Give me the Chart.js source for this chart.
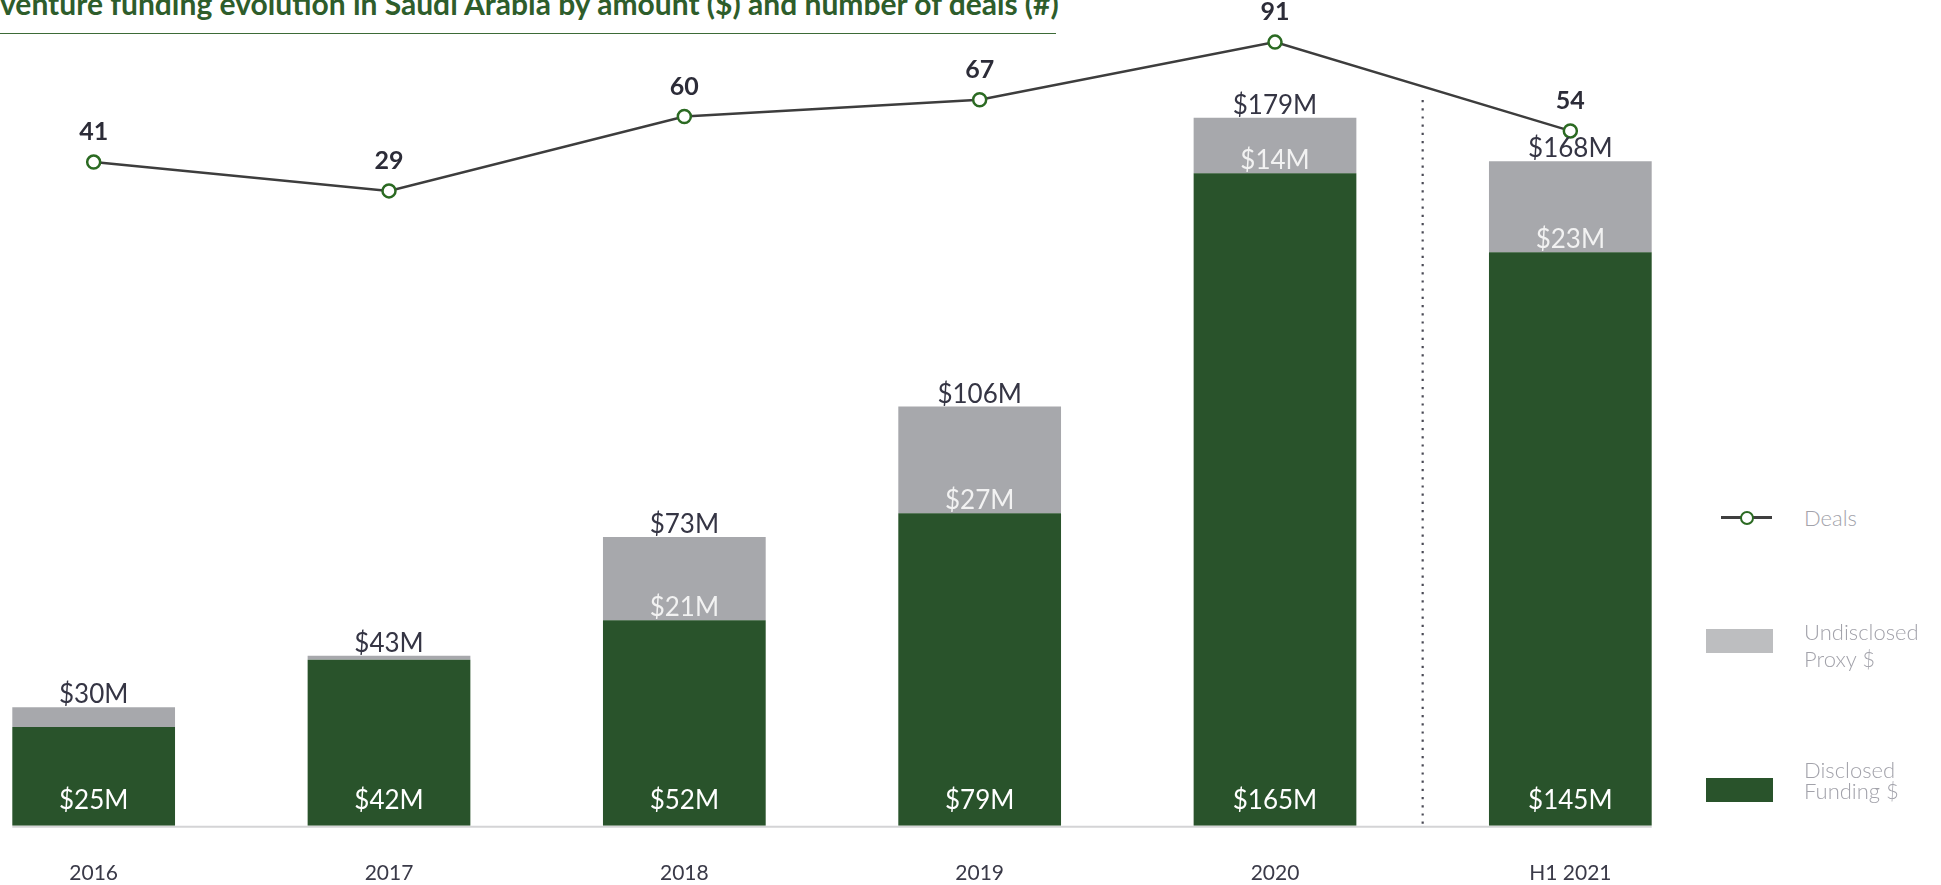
<!DOCTYPE html>
<html>
<head>
<meta charset="utf-8">
<script src="https://cdn.jsdelivr.net/npm/chart.js@4.4.1/dist/chart.umd.min.js"></script>
<style>
  html, body { margin: 0; padding: 0; background: #ffffff; overflow: hidden; width: 1941px; height: 885px; }
  body { position: relative; font-family: Lato, "Open Sans", sans-serif; }
  #chart { position: absolute; left: -54px; top: 0; }
  #title { position: absolute; left: 0; top: -12.5px; font: 700 30px/30px Lato, sans-serif; color: #2e5d2b; white-space: nowrap; }
  #rule { position: absolute; left: 0; top: 33px; width: 1056px; height: 0; border-top: 1.5px solid #3d6b37; }
  .lg { position: absolute; }
  .lgtext { position: absolute; left: 1804px; font: 300 22px Lato, sans-serif; color: #a2a2aa; white-space: nowrap; }
</style>
</head>
<body>
<div id="title">venture funding evolution in Saudi Arabia by amount ($) and number of deals (#)</div>
<div id="rule"></div>
<canvas id="chart" width="1772" height="921"></canvas>

<div class="lg" style="left:1721px; top:516px; width:51px; height:3px; background:#3f3f3f;"></div>
<div class="lg" style="left:1740px; top:511px; width:10px; height:10px; border:2.5px solid #2b6a22; border-radius:50%; background:#fff;"></div>
<div class="lgtext" style="top:504px; line-height:28px;">Deals</div>

<div class="lg" style="left:1706px; top:629px; width:67px; height:24px; background:#bdbec0;"></div>
<div class="lgtext" style="top:618px; line-height:27px;">Undisclosed<br>Proxy $</div>

<div class="lg" style="left:1706px; top:778px; width:67px; height:24px; background:#29532b;"></div>
<div class="lgtext" style="top:759px; line-height:21px;">Disclosed<br>Funding $</div>

<script>
// ---- data ----
const categories = ['2016', '2017', '2018', '2019', '2020', 'H1 2021'];
const disclosedFunding = [25, 42, 52, 79, 165, 145];   // $M
const undisclosedProxy = [5, 1, 21, 27, 14, 23];       // $M
const deals = [41, 29, 60, 67, 91, 54];                // number of deals

const GREEN = '#29532b';
const GRAY = '#a7a8ac';

const decorPlugin = {
  id: 'decor',
  beforeDatasetsDraw(chart) {
    const ctx = chart.ctx;
    const xs = chart.scales.x, ys = chart.scales.y;
    const base = ys.getPixelForValue(0);
    const metaD = chart.getDatasetMeta(1);
    const first = metaD.data[0], last = metaD.data[metaD.data.length - 1];
    ctx.save();
    // baseline
    ctx.strokeStyle = '#d4d4d6';
    ctx.lineWidth = 2;
    ctx.beginPath();
    ctx.moveTo(first.x - first.width / 2, base + 1);
    ctx.lineTo(last.x + last.width / 2, base + 1);
    ctx.stroke();
    // dotted divider between 2020 and H1 2021
    const xm = (xs.getPixelForValue(4) + xs.getPixelForValue(5)) / 2;
    ctx.strokeStyle = '#4a4a55';
    ctx.lineWidth = 2.2;
    ctx.setLineDash([2.2, 6]);
    ctx.beginPath();
    ctx.moveTo(xm, 100);
    ctx.lineTo(xm, base + 2);
    ctx.stroke();
    ctx.restore();
  },
  afterDatasetsDraw(chart) {
    const ctx = chart.ctx;
    const metaL = chart.getDatasetMeta(0);
    const metaD = chart.getDatasetMeta(1);
    const metaU = chart.getDatasetMeta(2);
    const base = chart.scales.y.getPixelForValue(0);
    ctx.save();
    ctx.textAlign = 'center';
    for (let i = 0; i < categories.length; i++) {
      const d = metaD.data[i], u = metaU.data[i];
      // disclosed label near bottom
      ctx.font = '400 26px Lato, sans-serif';
      ctx.fillStyle = '#ffffff';
      ctx.textBaseline = 'middle';
      ctx.fillText('$' + disclosedFunding[i] + 'M', d.x, base - 25);
      // undisclosed label at bottom of gray segment
      if (undisclosedProxy[i] >= 10) {
        ctx.fillStyle = '#f2f2f2';
        ctx.textBaseline = 'alphabetic';
        ctx.fillText('$' + undisclosedProxy[i] + 'M', u.x, u.base - 4);
      }
      // total label above bar
      ctx.fillStyle = '#353544';
      ctx.textBaseline = 'alphabetic';
      ctx.fillText('$' + (disclosedFunding[i] + undisclosedProxy[i]) + 'M', u.x, u.y - 4);
      // deals label
      const p = metaL.data[i];
      ctx.font = '700 25px Lato, sans-serif';
      ctx.fillStyle = '#2c2c38';
      ctx.textBaseline = 'middle';
      ctx.fillText(String(deals[i]), p.x, p.y - 30);
    }
    ctx.restore();
  }
};

new Chart(document.getElementById('chart'), {
  type: 'bar',
  data: {
    labels: categories,
    datasets: [
      {
        type: 'line',
        label: 'Deals',
        data: deals,
        yAxisID: 'y2',
        order: 0,
        borderColor: '#3d3d3d',
        borderWidth: 2.5,
        tension: 0,
        pointRadius: 6.5,
        pointHoverRadius: 6.5,
        pointBackgroundColor: '#ffffff',
        pointBorderColor: '#2b6a22',
        pointBorderWidth: 2.5
      },
      {
        label: 'Disclosed Funding $',
        data: disclosedFunding,
        yAxisID: 'y',
        order: 1,
        backgroundColor: GREEN,
        categoryPercentage: 1,
        barPercentage: 0.551
      },
      {
        label: 'Undisclosed Proxy $',
        data: undisclosedProxy,
        yAxisID: 'y',
        order: 1,
        backgroundColor: GRAY,
        categoryPercentage: 1,
        barPercentage: 0.551
      }
    ]
  },
  options: {
    responsive: false,
    devicePixelRatio: 1,
    animation: false,
    layout: { autoPadding: false, padding: { top: 15, left: 0, right: 0, bottom: 0 } },
    plugins: { legend: { display: false }, tooltip: { enabled: false } },
    scales: {
      x: {
        stacked: true,
        offset: true,
        grid: { display: false, drawTicks: false, tickLength: 0 },
        border: { display: false },
        ticks: { padding: 35, color: '#3a3a48', font: { family: 'Lato', size: 21 } }
      },
      y: { stacked: true, display: false, min: 0, max: 205 },
      y2: { display: false, min: -235.6, max: 102.3 }
    }
  },
  plugins: [decorPlugin]
});
</script>
</body>
</html>
